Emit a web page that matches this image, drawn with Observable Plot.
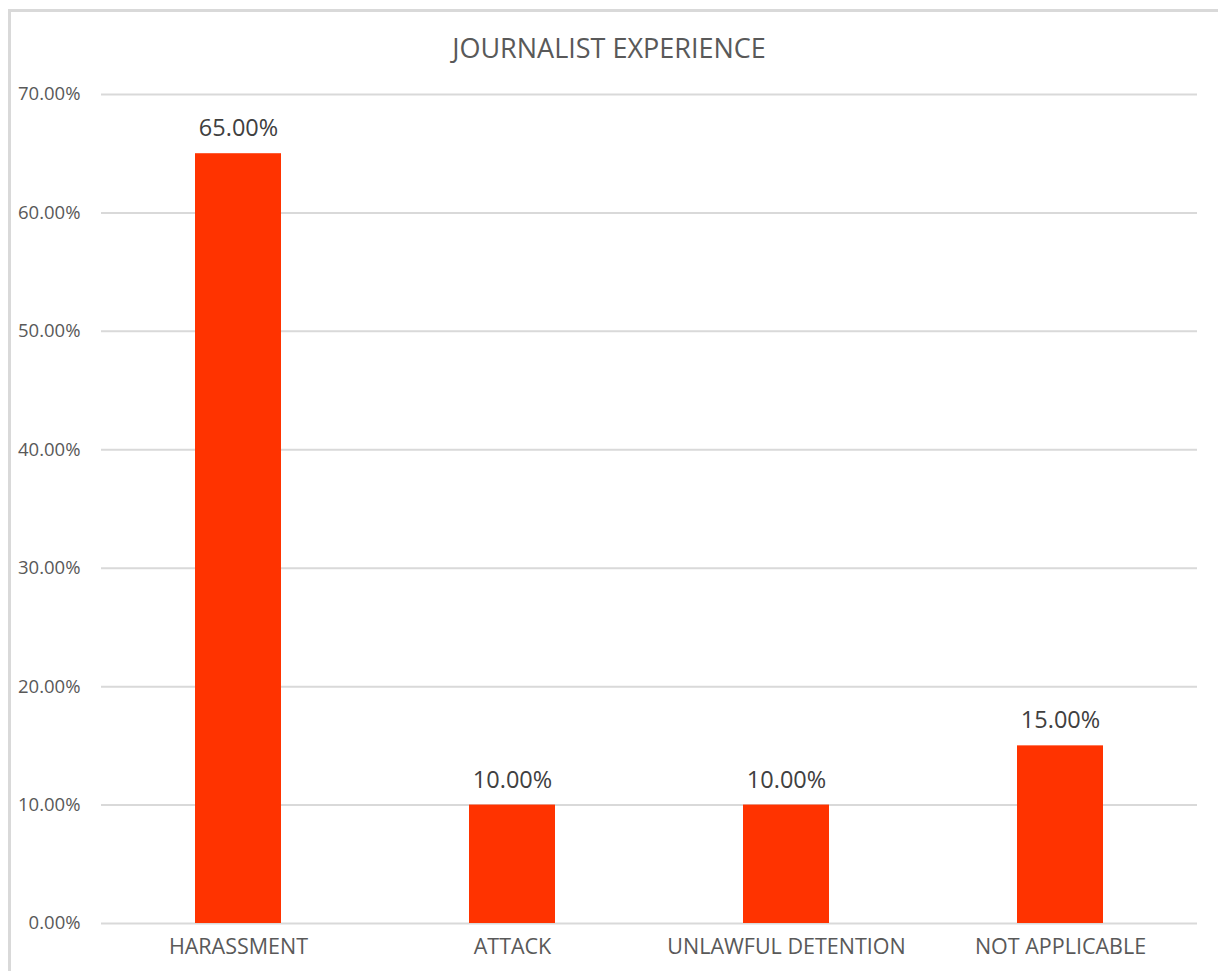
<!DOCTYPE html>
<html>
<head>
<meta charset="utf-8">
<script src="https://cdn.jsdelivr.net/npm/d3@7"></script>
<script src="https://cdn.jsdelivr.net/npm/@observablehq/plot@0.6"></script>
<style>
  html, body { margin: 0; padding: 0; background: #fff; overflow: hidden; }
  body { width: 1218px; height: 971px; position: relative; font-family: "Open Sans", sans-serif; }
  #frame { position: absolute; left: 8px; top: 9px; width: 1240px; height: 1000px; border: 3px solid #d9d9d9; box-sizing: border-box; }
  #title { position: absolute; left: 0; top: 0; width: 1218px; height: 75px; text-align: center; font-size: 27px; line-height: 96px; color: #595959; }
  #chart { position: absolute; left: 0; top: 75px; }
</style>
</head>
<body>
<div id="frame"></div>
<div id="title">JOURNALIST EXPERIENCE</div>
<div id="chart"></div>
<script>
const categories = ["HARASSMENT", "ATTACK", "UNLAWFUL DETENTION", "NOT APPLICABLE"];
const values = [65, 10, 10, 15];
const yTicks = [0, 10, 20, 30, 40, 50, 60, 70];

const data = categories.map((c, i) => ({category: c, value: values[i]}));
const fmt = d => d.toFixed(2) + "%";

const chart = Plot.plot({
  width: 1218,
  height: 896,
  marginTop: 19,
  marginBottom: 48,
  marginLeft: 101,
  marginRight: 21,
  style: {fontFamily: "'Open Sans', sans-serif", color: "#595959", background: "transparent"},
  x: {domain: categories, paddingInner: 0.686, paddingOuter: 0.343, label: null},
  y: {domain: [0, 70], label: null},
  marks: [
    Plot.ruleY(yTicks, {stroke: "#d9d9d9", strokeWidth: 2}),
    Plot.barY(data, {x: "category", y: "value", fill: "#ff3300"}),
    Plot.text(data, {x: "category", y: "value", text: d => fmt(d.value), dy: -25, fontSize: 23.5, fill: "#404040"}),
    Plot.axisY(yTicks, {tickSize: 0, tickPadding: 21, tickFormat: fmt, fontSize: 18.5, label: null}),
    Plot.axisX({tickSize: 0, tickPadding: 15, fontSize: 21.5, label: null})
  ]
});
document.getElementById("chart").appendChild(chart);
</script>
</body>
</html>
